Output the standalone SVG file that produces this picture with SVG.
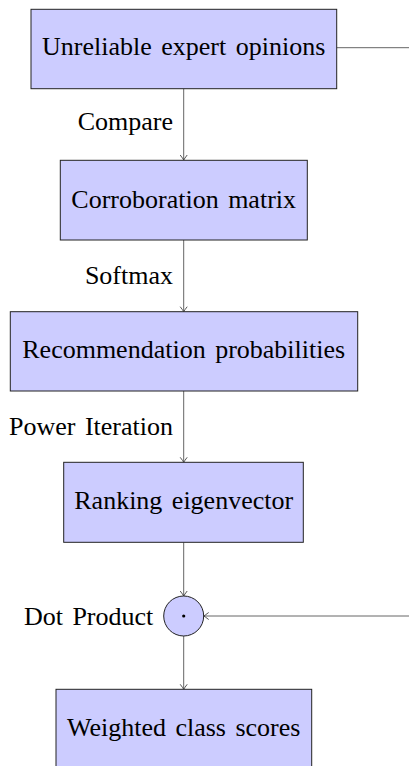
<svg xmlns="http://www.w3.org/2000/svg" width="409" height="766" viewBox="0 0 409 766">
<style>
.box{fill:#ccccff;stroke:#222;stroke-width:1}
.t{font-family:"Liberation Serif","Times New Roman",serif;font-size:26px;fill:#000;word-spacing:3px}
.c{text-anchor:middle}
.l{text-anchor:end}
.e{fill:none;stroke:#666;stroke-width:1}
</style>
<defs>
<marker id="ar" viewBox="-6 -5 8 10" refX="0" refY="0" markerWidth="8" markerHeight="10" markerUnits="userSpaceOnUse" orient="auto">
<path d="M-5,-3.5 Q-1.5,-0.8 0,0 Q-1.5,0.8 -5,3.5" fill="none" stroke="#444" stroke-width="0.9"/>
</marker>
</defs>
<g id="edges">
<path class="e" d="M183.7,88.7 V160" marker-end="url(#ar)"/>
<path class="e" d="M183.7,240 V311.7" marker-end="url(#ar)"/>
<path class="e" d="M183.7,391 V462.3" marker-end="url(#ar)"/>
<path class="e" d="M183.7,542.3 V596" marker-end="url(#ar)"/>
<path class="e" d="M183.7,636 V689.3" marker-end="url(#ar)"/>
<path class="e" d="M336.7,47.7 H409"/>
<path class="e" d="M409,616 H203.7" marker-end="url(#ar)"/>
<text class="t l" x="173" y="130">Compare</text>
<text class="t l" x="173" y="284.3">Softmax</text>
<text class="t l" x="173" y="435">Power Iteration</text>
</g>
<g id="n1">
<rect class="box" x="31" y="9.3" width="305.7" height="79.4"/>
<text class="t c" x="183.7" y="55">Unreliable expert opinions</text>
</g>
<g id="n2">
<rect class="box" x="60.3" y="160.3" width="247" height="79.7"/>
<text class="t c" x="183.7" y="208.3">Corroboration matrix</text>
</g>
<g id="n3">
<rect class="box" x="10.3" y="311.7" width="347.4" height="79.3"/>
<text class="t c" x="183.7" y="358.3">Recommendation probabilities</text>
</g>
<g id="n4">
<rect class="box" x="63.7" y="462.3" width="239.6" height="80"/>
<text class="t c" x="183.7" y="509.3">Ranking eigenvector</text>
</g>
<g id="n5">
<circle class="box" cx="183.7" cy="616" r="20"/>
<circle cx="183.7" cy="616" r="1.6" fill="#000"/>
<text class="t l" x="153.3" y="625">Dot Product</text>
</g>
<g id="n6">
<rect class="box" x="56" y="689.3" width="255.7" height="80"/>
<text class="t c" x="183.7" y="735.5">Weighted class scores</text>
</g>
</svg>
